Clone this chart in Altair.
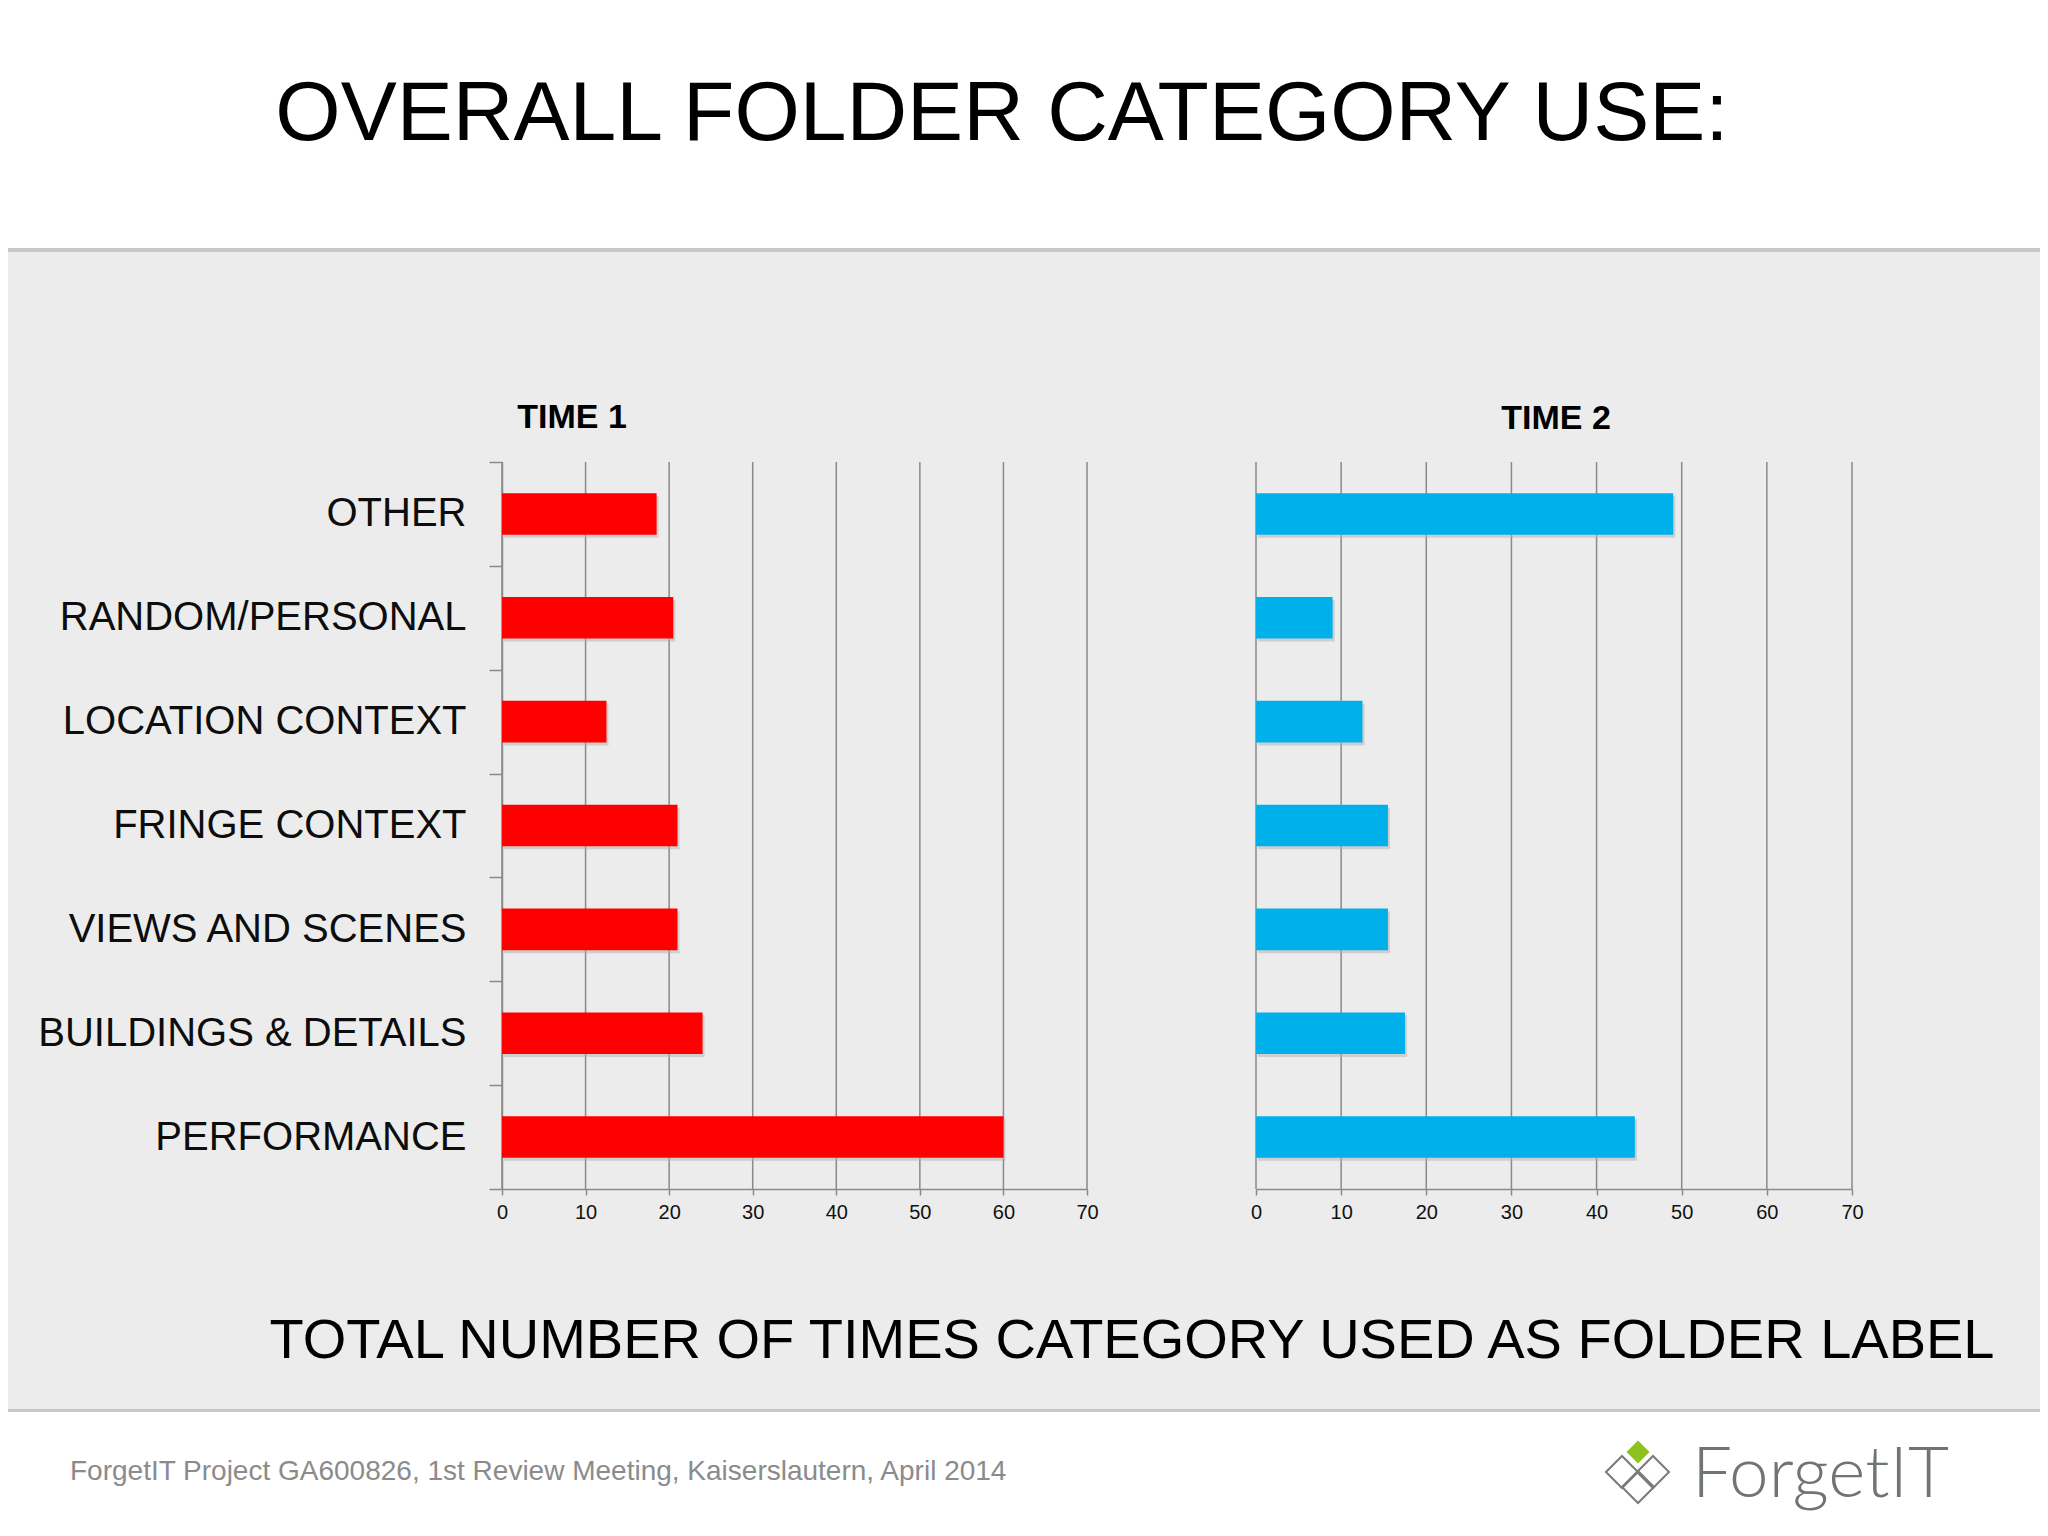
import altair as alt
import pandas as pd

# ---------------- data ----------------
categories = ["OTHER", "RANDOM/PERSONAL", "LOCATION CONTEXT", "FRINGE CONTEXT",
              "VIEWS AND SCENES", "BUILDINGS & DETAILS", "PERFORMANCE"]
time1_values = [18.5, 20.5, 12.5, 21.0, 21.0, 24.0, 60.0]
time2_values = [49.0, 9.0, 12.5, 15.5, 15.5, 17.5, 44.5]
x_ticks = [0, 10, 20, 30, 40, 50, 60, 70]

TITLE = "OVERALL FOLDER CATEGORY USE:"
PANEL1_TITLE = "TIME 1"
PANEL2_TITLE = "TIME 2"
X_TITLE = "TOTAL NUMBER OF TIMES CATEGORY USED AS FOLDER LABEL"
FOOTER = "ForgetIT Project GA600826, 1st Review Meeting, Kaiserslautern, April 2014"
LOGO = "ForgetIT"

df = pd.DataFrame({"category": categories, "time1": time1_values, "time2": time2_values})
ticks_df = pd.DataFrame({"tick": x_ticks})
one = pd.DataFrame({"k": [0]})

# ---------------- layout ----------------
W, H = 1350, 727
PAD = {"left": 494, "top": 454, "right": 188, "bottom": 339}
P1_RANGE = [0, 585]
P2_RANGE = [754, 1350]
FONT = "Liberation Sans"
GRID = "#8a8a8a"
RED = "#ff0000"
BLUE = "#00b0eb"

y_axis = alt.Axis(title=None, tickBand="extent", tickSize=13, tickColor=GRID, tickWidth=1.5,
                  domainColor=GRID, domainWidth=1.5, labelPadding=23, labelFontSize=40,
                  labelFont=FONT, labelColor="#0d0d0d", labelLimit=700, grid=False)
y_enc = alt.Y("category:N", sort=categories,
              scale=alt.Scale(paddingInner=0, paddingOuter=0), axis=y_axis)


def panel(field, rng, color):
    xs = alt.Scale(domain=[0, 70], range=rng, nice=False, zero=True)
    xa = alt.Axis(title=None, orient="bottom", values=x_ticks, grid=False, tickSize=6,
                  tickColor=GRID, tickWidth=1.5, domainColor=GRID, domainWidth=1.5,
                  labelPadding=7, labelFontSize=20, labelFont=FONT, labelColor="#111111",
                  labelFlush=False, labelOverlap=False, format="d")
    grid = alt.Chart(ticks_df).mark_rule(color=GRID, strokeWidth=1.5).encode(
        x=alt.X("tick:Q", scale=xs, axis=xa), y=alt.value(0), y2=alt.value(H))
    shadow = alt.Chart(df).mark_bar(height={"band": 0.4}, xOffset=2, yOffset=3,
                                    color="#b0b0b0", opacity=0.5).encode(
        x=alt.X(f"{field}:Q", scale=xs, axis=xa), y=y_enc)
    bars = alt.Chart(df).mark_bar(height={"band": 0.4}, color=color).encode(
        x=alt.X(f"{field}:Q", scale=xs, axis=xa), y=y_enc)
    return alt.layer(grid, shadow, bars)


def text(s, x, y, size, weight="normal", color="#000000", align="center",
         baseline="middle", font=FONT):
    return alt.Chart(one).mark_text(text=s, fontSize=size, fontWeight=weight, color=color,
                                    align=align, baseline=baseline, font=font).encode(
        x=alt.value(x), y=alt.value(y))


def band(y0, y1, color):
    return alt.Chart(one).mark_rect(color=color).encode(
        x=alt.value(-PAD["left"]), x2=alt.value(W + PAD["right"]),
        y=alt.value(y0), y2=alt.value(y1))


def diamond(x, y, size, filled, color):
    if filled:
        m = alt.Chart(one).mark_point(shape="diamond", size=size, filled=True, color=color, opacity=1)
    else:
        m = alt.Chart(one).mark_point(shape="diamond", size=size, filled=False, stroke=color,
                                      strokeWidth=2, opacity=1)
    return m.encode(x=alt.value(x), y=alt.value(y))


header = band(-PAD["top"], -214, "#ffffff")
header_line = band(-214, -210, "#c8c8c8")
footer = band(950, H + PAD["bottom"], "#ffffff")
footer_line = band(947, 950, "#c8c8c8")

p1 = panel("time1", P1_RANGE, RED)
p2 = panel("time2", P2_RANGE, BLUE)

texts = [
    text(TITLE, 500, -347, 84),
    text(PANEL1_TITLE, 70, -44, 34, weight="bold"),
    text(PANEL2_TITLE, 1054, -43, 34, weight="bold"),
    text(X_TITLE, 630, 879, 56),
    text(FOOTER, -432, 1010, 28, color="#8b8b8b", align="left"),
    text(LOGO, 1190, 1035, 71, weight=300, color="#6f7474", align="left",
         baseline="alphabetic", font="Lato"),
]

logo = [
    diamond(1120, 1010, 1024, False, "#7a7a7a"),
    diamond(1151, 1010, 1024, False, "#7a7a7a"),
    diamond(1136, 1025, 1024, False, "#7a7a7a"),
    diamond(1136, 990, 529, True, "#8dc21f"),
]

chart = alt.layer(header, header_line, footer, footer_line, p1, p2, *texts, *logo).resolve_scale(
    x="independent"
).properties(
    width=W, height=H, padding=PAD,
    autosize=alt.AutoSizeParams(type="none"),
    background="#ececec",
).configure_view(stroke=None)

chart.save("out.html", embed_options={"renderer": "svg", "actions": False})
